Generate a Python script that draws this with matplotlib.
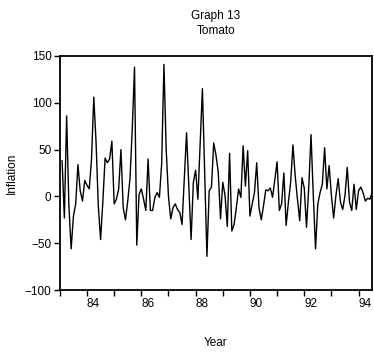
import matplotlib
matplotlib.use("Agg")
import matplotlib.pyplot as plt
import numpy as np

# monthly tomato inflation, 1983:01 - 1994:06
inflation = [
    38, -23, 86, -10, -56, -21, -8, 34, 6, -5,
    17, 12, 8, 40, 106, 58, -10, -46, -6, 41,
    36, 40, 59, -8, -3, 8, 50, -12, -25, -5,
    19, 72, 138, -52, 2, 8, -3, -15, 40, -15,
    -15, -1, 4, -1, 35, 141, 50, 0, -24, -12,
    -8, -14, -17, -30, 20, 68, 11, -46, 15, 28,
    -3, 55, 115, 25, -64, 6, 10, 57, 44, 26,
    -24, 15, 1, -32, 46, -37, -30, -12, 8, -1,
    54, 11, 49, -21, -8, 4, 36, -12, -25, -10,
    7, 6, 9, -1, 18, 37, -15, -8, 25, -31,
    -6, 15, 55, 22, -3, -26, 20, 9, -33, 10,
    66, 1, -56, -8, 4, 13, 52, 8, 33, 1,
    -23, 1, 19, -6, -14, 1, 31, -6, -15, 13,
    -14, 6, 10, 4, -5, -2, -3, 4,
]
start_year = 1983
year_ticks = list(range(1983, 1995))
year_labels = ["" if y % 2 else str(y % 100) for y in year_ticks]
y_ticks = [-100, -50, 0, 50, 100, 150]

plt.rcParams["font.family"] = ["Liberation Sans", "DejaVu Sans"]
fs = 8.5

t = start_year + (np.arange(len(inflation)) + 1) / 12.0

fig = plt.figure(figsize=(3.74, 3.52), dpi=100)
ax = fig.add_axes([0.160, 0.176, 0.835, 0.665])

ax.plot(t, inflation, color="black", linewidth=1.0)

ax.set_xlim(start_year, t[-1])
ax.set_ylim(-100, 150)
ax.set_xticks(year_ticks)
ax.set_xticklabels(year_labels, ha="left")
ax.set_yticks(y_ticks)
ax.tick_params(axis="both", direction="out", length=4, width=1, labelsize=fs, pad=2)
ax.tick_params(axis="x", pad=2)

for s in ax.spines.values():
    s.set_linewidth(1.3)

ax.set_xlabel("Year", fontsize=fs, labelpad=19)
ax.set_ylabel("Inflation", fontsize=fs, labelpad=5)
ax.set_title("Graph 13\nTomato", fontsize=fs, pad=16, linespacing=1.3)

fig.savefig("out.png", dpi=100)
